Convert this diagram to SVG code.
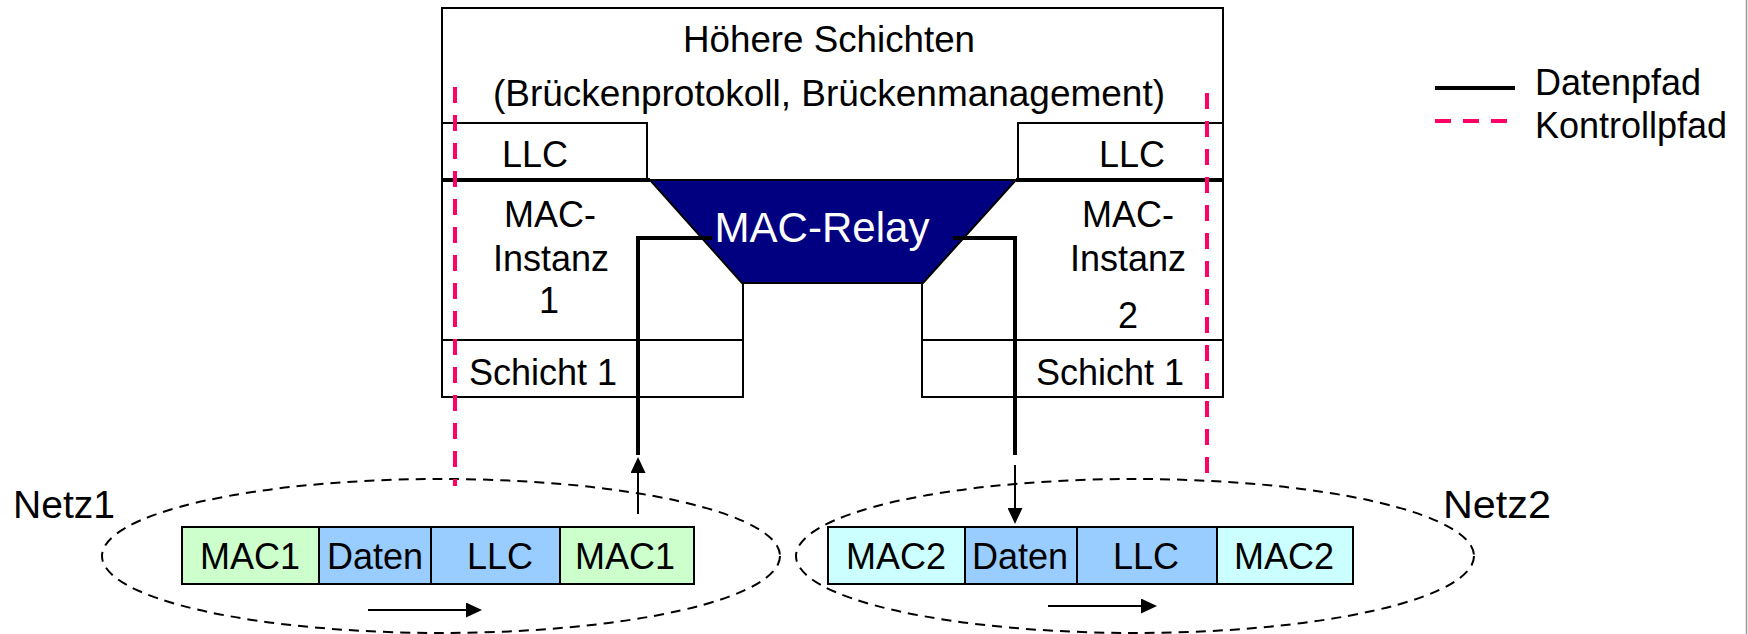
<svg xmlns="http://www.w3.org/2000/svg" width="1748" height="634" viewBox="0 0 1748 634">
<style>
text{font-family:"Liberation Sans",Arial,Helvetica,sans-serif;fill:#000}
.t36{font-size:36px;text-anchor:middle}
.pk{font-size:36px;text-anchor:middle}
.thin{stroke:#000;stroke-width:2;fill:none}
.thick{stroke:#000;stroke-width:4;fill:none}
.ctl{stroke:#FF0066;stroke-width:4;stroke-dasharray:16 12;fill:none}
.net{stroke:#000;stroke-width:2;stroke-dasharray:10 7;fill:none}
.mac1{fill:#CCFFCC;stroke:#000;stroke-width:2}
.mac2{fill:#CCFFFF;stroke:#000;stroke-width:2}
.dat{fill:#99CCFF;stroke:#000;stroke-width:2}
</style>
<defs>
<marker id="ah" markerUnits="userSpaceOnUse" markerWidth="16" markerHeight="15" refX="6" refY="7.5" orient="auto">
<path d="M0,0 L16,7.5 L0,15 Z" fill="#000"/>
</marker>
</defs>
<rect width="1748" height="634" fill="#fff"/>
<line x1="1746.5" y1="0" x2="1746.5" y2="634" stroke="#999" stroke-width="1.5"/>

<g id="bridge">
<path class="thin" d="M743,283 V397 H442 V8 H1223 V397 H922 V283"/>
<polygon points="650,180 1016,180 923,283 742,283" fill="#000080" stroke="#000" stroke-width="2"/>
<path class="thin" d="M442,123 H647 V180"/>
<path class="thin" d="M1223,123 H1018 V180"/>
<path class="thin" d="M442,340 H743 M922,340 H1223"/>
<path class="thick" d="M442,180 H650 M1016,180 H1223"/>
<text class="t36" x="829" y="52" textLength="292" lengthAdjust="spacingAndGlyphs">Höhere Schichten</text>
<text class="t36" x="829" y="106" textLength="672" lengthAdjust="spacingAndGlyphs">(Brückenprotokoll, Brückenmanagement)</text>
<text class="t36" x="535" y="167">LLC</text>
<text class="t36" x="1132" y="167">LLC</text>
<text class="t36" x="550" y="227">MAC-</text>
<text class="t36" x="551" y="271">Instanz</text>
<text class="t36" x="549" y="313">1</text>
<text class="t36" x="1128" y="227">MAC-</text>
<text class="t36" x="1128" y="271">Instanz</text>
<text class="t36" x="1128" y="328">2</text>
<text class="t36" x="543" y="385">Schicht 1</text>
<text class="t36" x="1110" y="385">Schicht 1</text>
<text x="822" y="242" font-size="42" text-anchor="middle" style="fill:#fff" textLength="215" lengthAdjust="spacingAndGlyphs">MAC-Relay</text>
</g>

<g id="netz1">
<ellipse class="net" cx="441" cy="556" rx="339" ry="77"/>
<rect class="mac1" x="182" y="527" width="137" height="57"/>
<rect class="dat" x="319" y="527" width="112" height="57"/>
<rect class="dat" x="431" y="527" width="129" height="57"/>
<rect class="mac1" x="560" y="527" width="134" height="57"/>
<text class="pk" x="250" y="569">MAC1</text>
<text class="pk" x="375" y="569">Daten</text>
<text class="pk" x="500" y="569">LLC</text>
<text class="pk" x="625" y="569">MAC1</text>
<text x="13" y="518" font-size="38" textLength="102" lengthAdjust="spacingAndGlyphs">Netz1</text>
</g>

<g id="netz2">
<ellipse class="net" cx="1135" cy="556" rx="339" ry="77"/>
<rect class="mac2" x="828" y="527" width="137" height="57"/>
<rect class="dat" x="965" y="527" width="112" height="57"/>
<rect class="dat" x="1077" y="527" width="140" height="57"/>
<rect class="mac2" x="1217" y="527" width="136" height="57"/>
<text class="pk" x="896" y="569">MAC2</text>
<text class="pk" x="1020" y="569">Daten</text>
<text class="pk" x="1146" y="569">LLC</text>
<text class="pk" x="1284" y="569">MAC2</text>
<text x="1443" y="518" font-size="38" textLength="108" lengthAdjust="spacingAndGlyphs">Netz2</text>
</g>

<g id="connectors">
<path class="thick" d="M712,238 H638 V455"/>
<path class="thick" d="M953,238 H1015 V455"/>
<line class="thin" x1="638" y1="514" x2="638" y2="467" marker-end="url(#ah)"/>
<line class="thin" x1="1015" y1="465" x2="1015" y2="514" marker-end="url(#ah)"/>
<line class="thin" x1="368" y1="610" x2="472" y2="610" marker-end="url(#ah)"/>
<line class="thin" x1="1048" y1="606" x2="1147" y2="606" marker-end="url(#ah)"/>
<line class="ctl" x1="455" y1="87" x2="455" y2="486"/>
<line class="ctl" x1="1207" y1="93" x2="1207" y2="474"/>
</g>

<g id="legend">
<line x1="1435" y1="88" x2="1515" y2="88" stroke="#000" stroke-width="4"/>
<line class="ctl" x1="1435" y1="121" x2="1507" y2="121" stroke-dasharray="15 12"/>
<text x="1535" y="95" font-size="36">Datenpfad</text>
<text x="1535" y="138" font-size="36">Kontrollpfad</text>
</g>
</svg>
